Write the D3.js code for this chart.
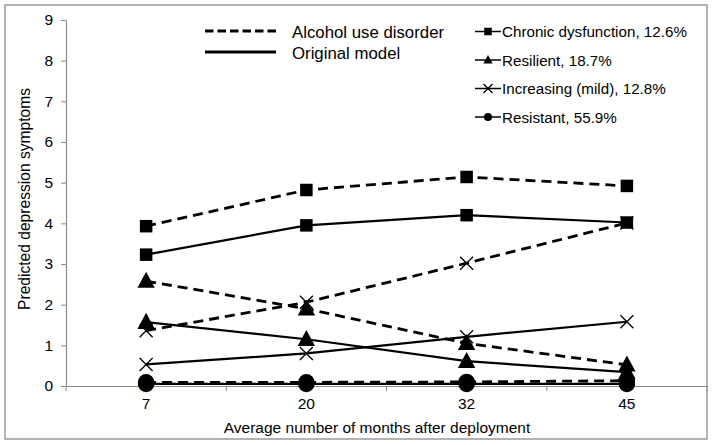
<!DOCTYPE html>
<html><head><meta charset="utf-8">
<script src="https://cdn.jsdelivr.net/npm/d3@7"></script>
<style>
html,body{margin:0;padding:0;background:#fff;}
text{font-family:"Liberation Sans",Arial,sans-serif;fill:#000;}
</style></head>
<body><svg id="c" width="713" height="445"></svg>
<script>
const months = ["7", "20", "32", "45"];
const yTicks = [0,1,2,3,4,5,6,7,8,9];
const classNames = ["Chronic dysfunction, 12.6%", "Resilient, 18.7%", "Increasing (mild), 12.8%", "Resistant, 55.9%"];
const classMarkers = ["square", "triangle", "cross", "circle"];
// Alcohol use disorder model (dashed)
const chronicAUD    = [3.93, 4.82, 5.14, 4.92];
const resilientAUD  = [2.58, 1.90, 1.05, 0.52];
const increasingAUD = [1.36, 2.06, 3.02, 4.01];
const resistantAUD  = [0.09, 0.09, 0.10, 0.13];
// Original model (solid)
const chronicOrig    = [3.23, 3.95, 4.20, 4.02];
const resilientOrig  = [1.57, 1.15, 0.61, 0.34];
const increasingOrig = [0.53, 0.80, 1.21, 1.58];
const resistantOrig  = [0.05, 0.05, 0.05, 0.05];
const modelNames = ["Alcohol use disorder", "Original model"];
const xTitle = "Average number of months after deployment";
const yTitle = "Predicted depression symptoms";

const audSeries = [chronicAUD, resilientAUD, increasingAUD, resistantAUD];
const origSeries = [chronicOrig, resilientOrig, increasingOrig, resistantOrig];

const svg = d3.select("#c");
const L = 66, R = 707, T = 20, B = 386;
const x = d3.scaleBand().domain(months).range([L, R]).padding(0);
const y = d3.scaleLinear().domain([0, 9]).range([B, T]);
const cx = m => x(m) + x.bandwidth() / 2;

// frame
svg.append("rect").attr("x", 5).attr("y", 5).attr("width", 702).attr("height", 434)
  .attr("fill", "none").attr("stroke", "#9a9a9a").attr("stroke-width", 1.5);

// y axis
const yAxis = svg.append("g").attr("transform", `translate(${L},0)`)
  .call(d3.axisLeft(y).tickValues(yTicks).tickSize(5).tickSizeOuter(0).tickPadding(8));
yAxis.select(".domain").attr("stroke", "#8a8a8a").attr("stroke-width", 1.2);
yAxis.selectAll(".tick line").attr("stroke", "#8a8a8a");
yAxis.selectAll("text").style("font-size", "15.5px").attr("font-family", null);

// x axis
const xAxis = svg.append("g").attr("transform", `translate(0,${B})`)
  .call(d3.axisBottom(x).tickSize(0).tickPadding(12));
xAxis.select(".domain").attr("stroke", "#8a8a8a").attr("stroke-width", 1.2);
xAxis.selectAll("text").style("font-size", "15.5px").attr("font-family", null);
// tick marks at category boundaries
const bounds = months.map(m => x(m)).concat([R]);
svg.append("g").selectAll("line").data(bounds).join("line")
  .attr("x1", d => d).attr("x2", d => d).attr("y1", B).attr("y2", B + 5)
  .attr("stroke", "#8a8a8a");

// titles
svg.append("text").attr("x", 377).attr("y", 433).attr("text-anchor", "middle")
  .style("font-size", "15.5px").text(xTitle);
svg.append("text").attr("transform", `translate(30,199) rotate(-90)`)
  .attr("text-anchor", "middle").style("font-size", "15.6px").text(yTitle);

// markers
function marker(g, type, px, py, s) {
  if (type === "square") {
    g.append("rect").attr("x", px - s / 2).attr("y", py - s / 2).attr("width", s).attr("height", s).attr("fill", "#000");
  } else if (type === "triangle") {
    const h = s * 1.0;
    g.append("path").attr("d", `M${px},${py - h * 0.62}L${px + s * 0.58},${py + h * 0.45}L${px - s * 0.58},${py + h * 0.45}Z`).attr("fill", "#000");
  } else if (type === "cross") {
    const r = s / 2;
    g.append("path").attr("d", `M${px - r},${py - r}L${px + r},${py + r}M${px - r},${py + r}L${px + r},${py - r}`)
      .attr("stroke", "#000").attr("stroke-width", 1.3).attr("fill", "none");
  } else {
    g.append("circle").attr("cx", px).attr("cy", py).attr("r", s / 2).attr("fill", "#000");
  }
}
const markerSize = {square: 12.5, triangle: 15, cross: 13, circle: 16.5};

const line = d3.line().x((d, i) => cx(months[i])).y(d => y(d));
const plot = svg.append("g");
classMarkers.forEach((mk, k) => {
  plot.append("path").datum(origSeries[k]).attr("d", line).attr("fill", "none")
    .attr("stroke", "#000").attr("stroke-width", 2.2);
  plot.append("path").datum(audSeries[k]).attr("d", line).attr("fill", "none")
    .attr("stroke", "#000").attr("stroke-width", 2.8).attr("stroke-dasharray", "10,6");
});
classMarkers.forEach((mk, k) => {
  [origSeries[k], audSeries[k]].forEach(vals => {
    vals.forEach((v, i) => marker(plot, mk, cx(months[i]), y(v), markerSize[mk]));
  });
});

// legend: models
const lg = svg.append("g");
lg.append("line").attr("x1", 205).attr("x2", 276).attr("y1", 31).attr("y2", 31)
  .attr("stroke", "#000").attr("stroke-width", 2.8).attr("stroke-dasharray", "8.5,4");
lg.append("line").attr("x1", 205).attr("x2", 276).attr("y1", 52).attr("y2", 52)
  .attr("stroke", "#000").attr("stroke-width", 2.8);
lg.selectAll("text.m").data(modelNames).join("text").attr("class", "m")
  .attr("x", 292).attr("y", (d, i) => 37.5 + i * 21).style("font-size", "16.8px").text(d => d);

// legend: classes
const rowsY = [31.5, 60, 88.5, 117];
classNames.forEach((nm, k) => {
  const yy = rowsY[k];
  lg.append("line").attr("x1", 475).attr("x2", 501).attr("y1", yy).attr("y2", yy)
    .attr("stroke", "#000").attr("stroke-width", 1.5);
  const ms = {square: 7.5, triangle: 8, cross: 9, circle: 8}[classMarkers[k]];
  marker(lg, classMarkers[k], 488, yy, ms);
  lg.append("text").attr("x", 502).attr("y", yy + 5.5).style("font-size", "15.2px").text(nm);
});
</script></body></html>
